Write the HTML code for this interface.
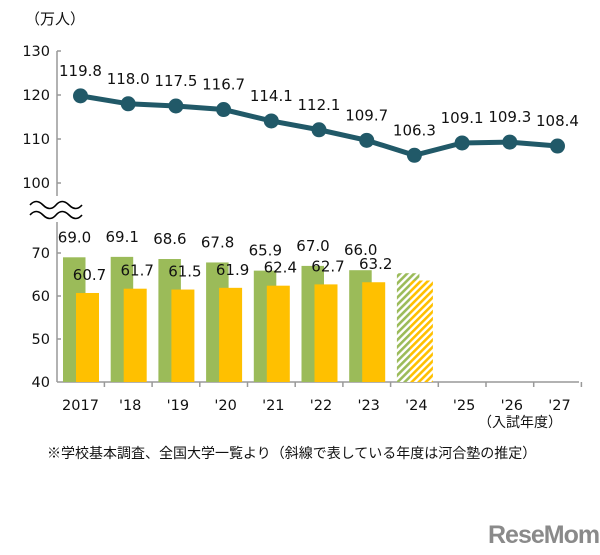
<!DOCTYPE html>
<html><head><meta charset="utf-8"><style>
body{margin:0;background:#fff}
svg text{font-family:"DejaVu Sans","Noto Sans CJK JP",sans-serif;fill:#111}
svg text.jp{font-family:"Liberation Sans","Noto Sans CJK JP",sans-serif}
</style></head><body>
<svg width="600" height="550" viewBox="0 0 600 550" xmlns="http://www.w3.org/2000/svg">
<defs>
<pattern id="hg" width="5" height="5" patternUnits="userSpaceOnUse" patternTransform="rotate(45)"><rect width="5" height="5" fill="#fff"/><rect width="2.6" height="5" fill="#9bbb59"/></pattern>
<pattern id="hy" width="5" height="5" patternUnits="userSpaceOnUse" patternTransform="rotate(45)"><rect width="5" height="5" fill="#fff"/><rect width="2.6" height="5" fill="#ffc000"/></pattern>
</defs>
<text class="jp" x="25" y="24" font-size="15">（万人）</text>
<g font-size="14.5" text-anchor="end">
<text x="50" y="56">130</text><text x="50" y="100">120</text><text x="50" y="144">110</text><text x="50" y="188">100</text>
<text x="50" y="258">70</text><text x="50" y="301">60</text><text x="50" y="344">50</text><text x="50" y="387">40</text>
</g>
<g stroke="#999" stroke-width="1.5">
<line x1="57" y1="51" x2="57" y2="196"/><line x1="57" y1="222" x2="57" y2="382"/>
<line x1="57" y1="51" x2="61" y2="51"/><line x1="57" y1="95" x2="61" y2="95"/><line x1="57" y1="139" x2="61" y2="139"/><line x1="57" y1="183" x2="61" y2="183"/>
<line x1="57" y1="253" x2="61" y2="253"/><line x1="57" y1="296" x2="61" y2="296"/><line x1="57" y1="339" x2="61" y2="339"/>
<line x1="57" y1="382" x2="579" y2="382"/>
</g>
<g stroke="#999" stroke-width="1.5" id="ticks"></g>
<path d="M30 205 q6 -7 13 0 t13 0 t13 0 t13 0 M30 215 q6 -7 13 0 t13 0 t13 0 t13 0" stroke="#000" stroke-width="1.6" fill="none"/>
<g id="bars"></g>
<g id="line"></g>
<g font-size="14.5" text-anchor="middle" id="xl"></g>
<text class="jp" x="520" y="427" font-size="14" text-anchor="middle">（入試年度）</text>
<text class="jp" x="47" y="458" font-size="14">※学校基本調査、全国大学一覧より（斜線で表している年度は河合塾の推定）</text>
<text class="jp" x="488" y="543" font-size="25" font-weight="bold" style="fill:#8a8a8a" letter-spacing="-1">ReseMom</text>
<script>
var ns="http://www.w3.org/2000/svg";
function el(p,t,a,txt){var e=document.createElementNS(ns,t);for(var k in a)e.setAttribute(k,a[k]);if(txt)e.textContent=txt;document.getElementById(p).appendChild(e);return e;}
var cx=function(i){return 80.5+47.7*i};
for(var k=1;k<=11;k++){var x=56.7+47.7*k;el("ticks","line",{x1:x,y1:382,x2:x,y2:387});}
var G=[69.0,69.1,68.6,67.8,65.9,67.0,66.0,65.3],Y=[60.7,61.7,61.5,61.9,62.4,62.7,63.2,63.6];
function by(v){return 382-(v-40)*4.3}
for(var i=0;i<8;i++){var c=cx(i),h=i==7;
el("bars","rect",{x:c-17.5,y:by(G[i]),width:22.5,height:382-by(G[i]),fill:h?"url(#hg)":"#9bbb59"});
el("bars","rect",{x:c-4.5,y:by(Y[i]),width:23,height:382-by(Y[i]),fill:h?"url(#hy)":"#ffc000"});
if(!h){el("bars","text",{x:c-6,y:by(G[i])-15,"font-size":15,"text-anchor":"middle"},G[i].toFixed(1));
el("bars","text",{x:c+9,y:by(Y[i])-13,"font-size":15,"text-anchor":"middle"},Y[i].toFixed(1));}}
var L=[119.8,118.0,117.5,116.7,114.1,112.1,109.7,106.3,109.1,109.3,108.4],pts=[];
for(var i=0;i<11;i++){pts.push(cx(i)+","+(95-(L[i]-120)*4.4));}
el("line","polyline",{points:pts.join(" "),fill:"none",stroke:"#215968","stroke-width":5});
for(var i=0;i<11;i++){var y=95-(L[i]-120)*4.4;el("line","circle",{cx:cx(i),cy:y,r:7.5,fill:"#215968"});
el("line","text",{x:cx(i),y:y-20,"font-size":15,"text-anchor":"middle"},L[i].toFixed(1));}
var X=["2017","'18","'19","'20","'21","'22","'23","'24","'25","'26","'27"];
for(var i=0;i<11;i++)el("xl","text",{x:cx(i)+(i?2:0),y:410},X[i]);
</script>
</svg>
</body></html>
